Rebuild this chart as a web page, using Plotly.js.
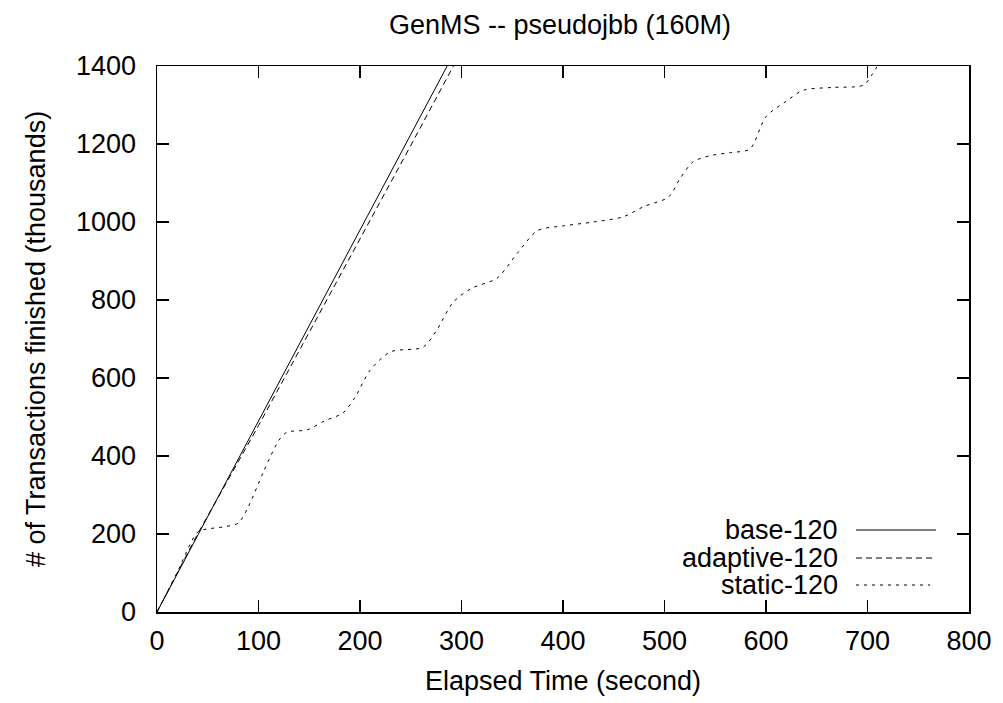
<!DOCTYPE html>
<html>
<head>
<meta charset="utf-8">
<script src="https://cdn.plot.ly/plotly-3.0.1.min.js"></script>
<style>html,body{margin:0;padding:0;background:#fff;}#chart{width:1003px;height:703px;}</style>
</head>
<body>
<div id="chart"></div>
<script>
// Data
const seriesNames = ["base-120", "adaptive-120", "static-120"];
const baseTime = [0, 50, 100, 150, 200, 250, 286, 292];
const baseTx   = [0, 245, 490, 735, 978, 1222, 1400, 1430];
const adaptiveTime = [0, 40, 100, 150, 200, 250, 292, 298];
const adaptiveTx   = [0, 200, 478, 717, 955, 1196, 1400, 1430];
const staticTime = [0, 20, 40, 50, 65, 80, 90, 105, 120, 128, 148, 165, 183, 195, 210, 230, 262, 275, 292, 310, 335, 355, 375, 400, 430, 459, 480, 504, 515, 528, 545, 565, 584, 600, 620, 637, 665, 696, 705, 712];
const staticTx   = [0, 102, 205, 213, 218, 228, 270, 360, 440, 461, 467, 490, 510, 550, 620, 667, 679, 720, 795, 830, 856, 920, 978, 990, 1000, 1013, 1040, 1064, 1110, 1154, 1170, 1178, 1187, 1270, 1310, 1338, 1345, 1351, 1380, 1410];
const xTicks = [0, 100, 200, 300, 400, 500, 600, 700, 800];
const yTicks = [0, 200, 400, 600, 800, 1000, 1200, 1400];

const dashes = ["solid", "6px,4px", "3px,5px"];
const font = "Liberation Sans, Arial, sans-serif";
const FS = 27;

const traces = [
  {x: baseTime, y: baseTx, name: seriesNames[0], mode: "lines", line: {color: "#000", width: 1, dash: dashes[0]}},
  {x: adaptiveTime, y: adaptiveTx, name: seriesNames[1], mode: "lines", line: {color: "#000", width: 1, dash: dashes[1]}},
  {x: staticTime, y: staticTx, name: seriesNames[2], mode: "lines", line: {color: "#000", width: 1, dash: dashes[2], shape: "spline", smoothing: 0.8}}
];

// gnuplot-style legend (text then sample)
const legendY = [530, 558, 585];
const annotations = [];
const shapes = [];
seriesNames.forEach((n, i) => {
  const yy = (612 - legendY[i]) / (612 - 66);
  annotations.push({xref: "paper", yref: "paper", x: (840 - 157) / (969 - 157), y: yy,
    text: n, showarrow: false, xanchor: "right", yanchor: "middle", font: {family: font, size: FS, color: "#000"}});
  shapes.push({type: "line", xref: "paper", yref: "paper",
    x0: (856 - 157) / (969 - 157), x1: ((i === 2 ? 930 : 936) - 157) / (969 - 157),
    y0: yy, y1: yy, line: {color: "#000", width: 1, dash: dashes[i]}});
});

const layout = {
  width: 1003, height: 703,
  margin: {l: 157, r: 34, t: 66, b: 91},
  paper_bgcolor: "#fff", plot_bgcolor: "#fff",
  showlegend: false,
  font: {family: font, size: FS, color: "#000"},
  title: {text: "GenMS -- pseudojbb (160M)", font: {family: font, size: FS, color: "#000"}, x: 560 / 1003, xanchor: "center", y: 1 - 25 / 703, yanchor: "middle"},
  xaxis: {
    range: [0, 800], tickvals: xTicks, ticktext: xTicks.map(String),
    ticks: "inside", ticklen: 12, tickwidth: 1.5, tickcolor: "#000",
    showline: true, linecolor: "#000", linewidth: 1.5, mirror: "ticks",
    showgrid: false, zeroline: false, ticklabelstandoff: 4,
    tickfont: {family: font, size: FS, color: "#000"},
    title: {text: "Elapsed Time (second)", font: {family: font, size: FS, color: "#000"}, standoff: 16}
  },
  yaxis: {
    range: [0, 1400], tickvals: yTicks, ticktext: yTicks.map(String),
    ticks: "inside", ticklen: 12, tickwidth: 1.5, tickcolor: "#000",
    showline: true, linecolor: "#000", linewidth: 1.5, mirror: "ticks",
    showgrid: false, zeroline: false, ticklabelstandoff: 14,
    tickfont: {family: font, size: FS, color: "#000"},
    title: {text: "# of Transactions finished (thousands)", font: {family: font, size: FS, color: "#000"}, standoff: 22}
  },
  annotations: annotations,
  shapes: shapes
};

Plotly.newPlot("chart", traces, layout, {staticPlot: true, displayModeBar: false});
</script>
</body>
</html>
